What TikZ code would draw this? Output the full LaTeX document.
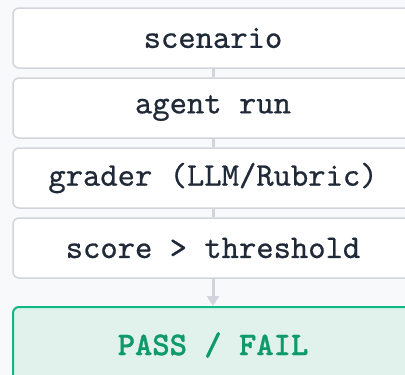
\documentclass[tikz,border=0pt]{standalone}
\usepackage{fontspec}
\newfontfamily\stepfont[FakeBold=0.6]{lmmono10-regular.otf}
\newfontfamily\okfont[FakeBold=1]{lmmonolt10-bold.otf}
\usetikzlibrary{arrows.meta}
\definecolor{bg}{HTML}{F8F9FB}
\definecolor{boxline}{HTML}{D1D5DB}
\definecolor{txt}{HTML}{1F2937}
\definecolor{okline}{HTML}{10B981}
\definecolor{okfill}{HTML}{E1F2EC}
\definecolor{oktxt}{HTML}{0E9A6A}
\tikzset{
  stepbox/.style={draw=boxline, line width=1.5pt, fill=white, rounded corners=6pt,
    minimum width=400pt, minimum height=60pt, inner sep=0pt,
    font=\stepfont\fontsize{33}{38}\selectfont, text=txt},
  resultbox/.style={draw=okline, line width=2pt, fill=okfill, rounded corners=6pt,
    minimum width=400pt, minimum height=76pt, inner sep=0pt,
    font=\okfont\fontsize{33}{38}\selectfont, text=oktxt},
  link/.style={draw=boxline, line width=3pt},
}
\begin{document}
\begin{tikzpicture}[x=1pt,y=-1pt]
\fill[bg] (0,0) rectangle (405,375);
\useasboundingbox (0,0) rectangle (405,375);
\clip (0,0) rectangle (405,375);
\node[stepbox] (a) at (213,38) {scenario};
\node[stepbox] (b) at (213,108) {agent run};
\node[stepbox] (c) at (213,178) {grader (LLM/Rubric)};
\node[stepbox] (d) at (213,248) {score > threshold};
\node[resultbox] (e) at (213,345) {PASS / FAIL};
\draw[link] (a.south) -- (b.north);
\draw[link] (b.south) -- (c.north);
\draw[link] (c.south) -- (d.north);
\draw[link, -{Triangle[width=12pt,length=10pt]}, boxline] (d.south) -- (e.north);
\end{tikzpicture}
\end{document}
